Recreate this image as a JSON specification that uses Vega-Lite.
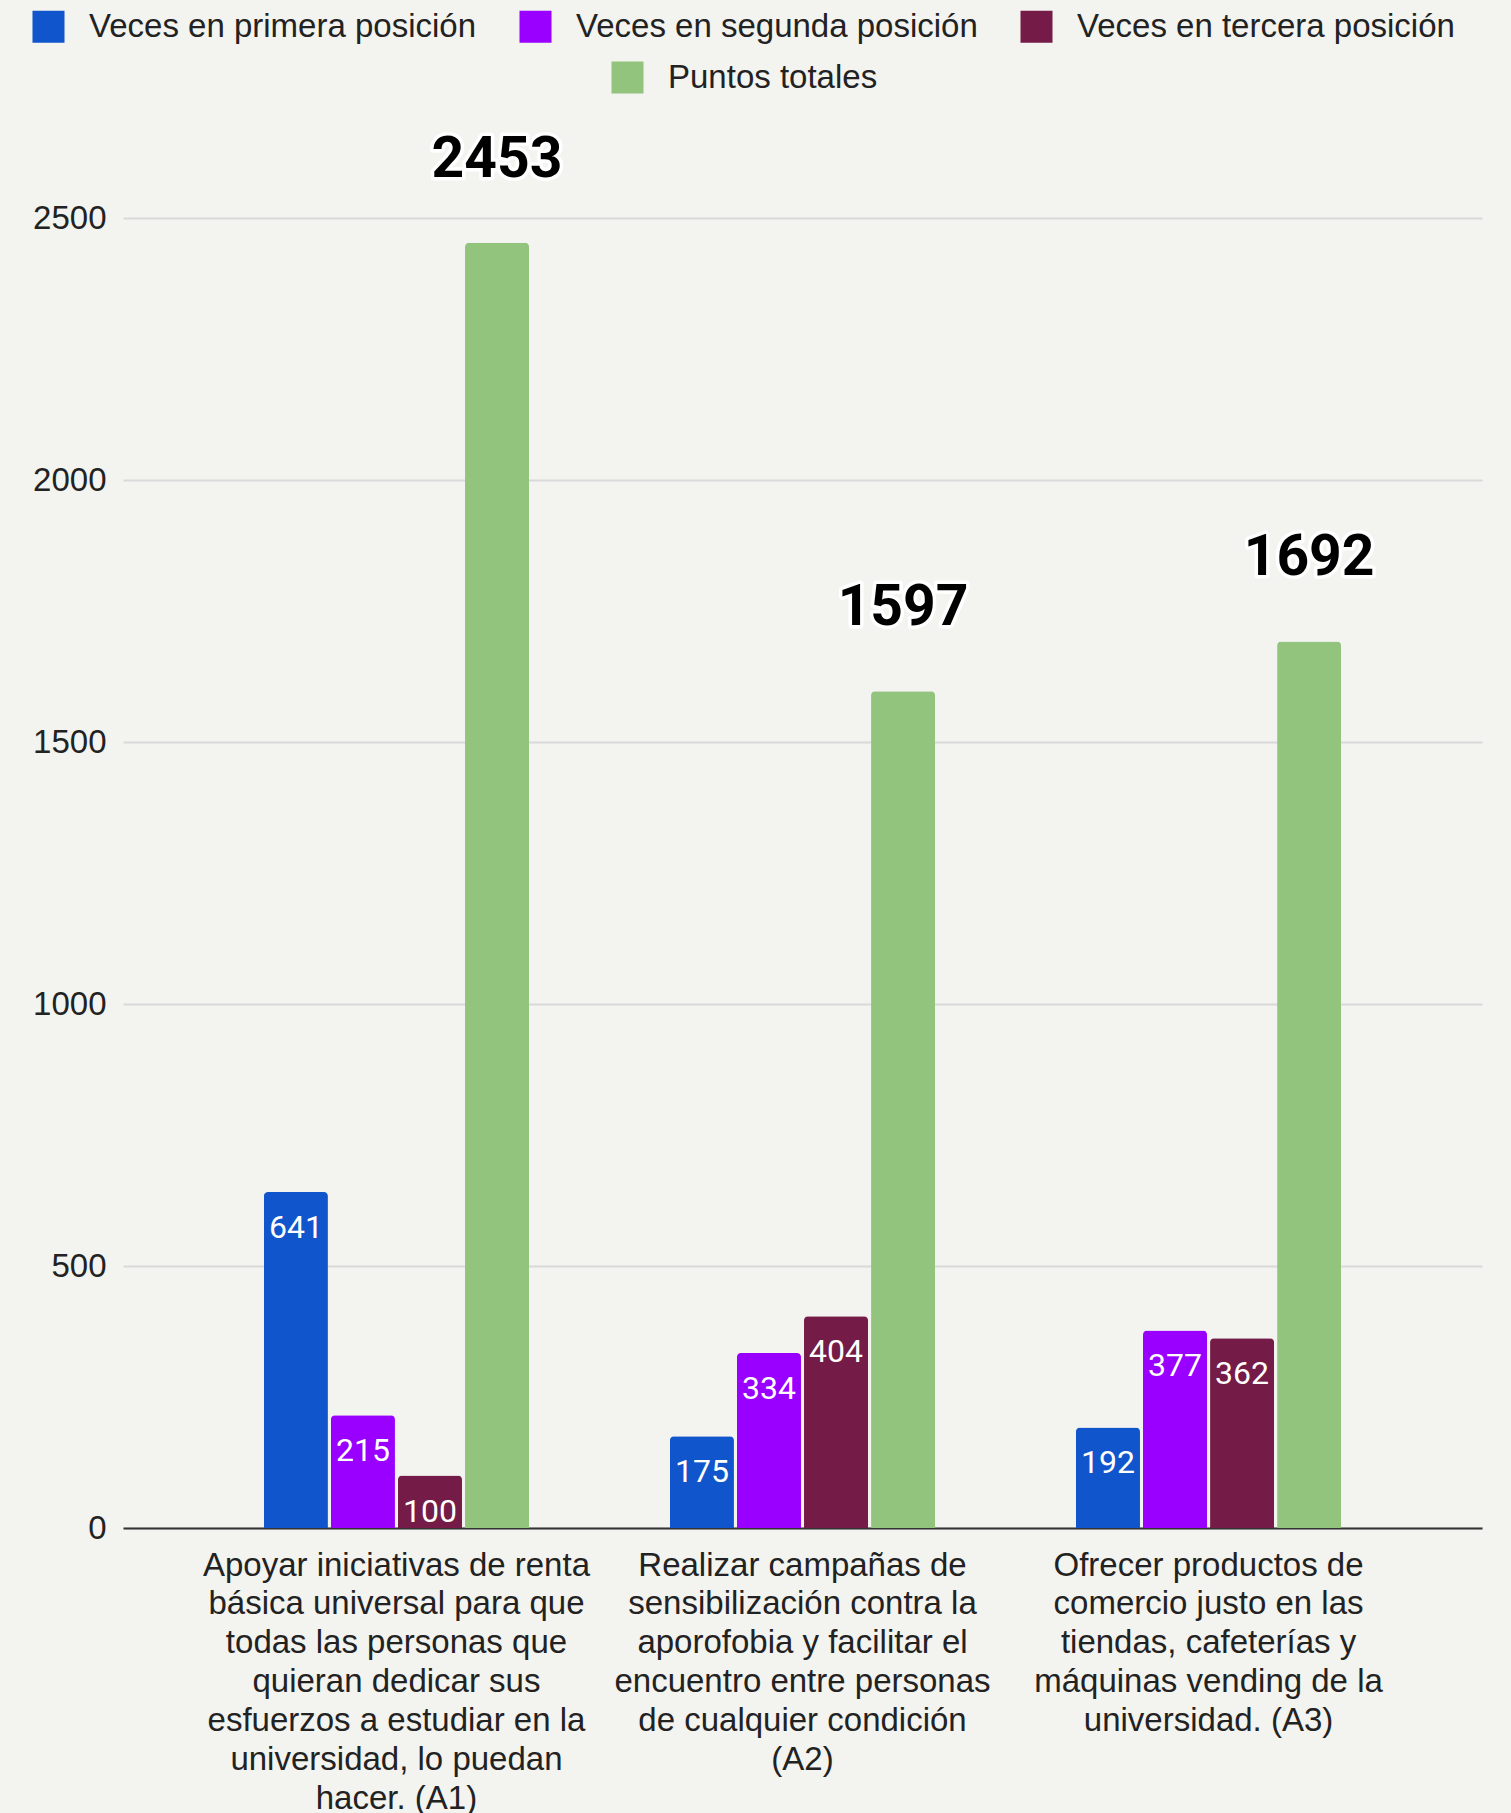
{
  "$schema": "https://vega.github.io/schema/vega-lite/v6.json",
  "width": 1359,
  "height": 1310,
  "autosize": {"type": "none"},
  "padding": {"left": 123, "top": 218, "right": 29, "bottom": 285},
  "background": "#f3f3ef",
  "config": {"view": {"stroke": null}},
  "data": {
    "values": [
      {"accion": "Apoyar iniciativas de renta\nbásica universal para que\ntodas las personas que\nquieran dedicar sus\nesfuerzos a estudiar en la\nuniversidad, lo puedan\nhacer. (A1)", "serie": "Veces en primera posición", "valor": 641},
      {"accion": "Apoyar iniciativas de renta\nbásica universal para que\ntodas las personas que\nquieran dedicar sus\nesfuerzos a estudiar en la\nuniversidad, lo puedan\nhacer. (A1)", "serie": "Veces en segunda posición", "valor": 215},
      {"accion": "Apoyar iniciativas de renta\nbásica universal para que\ntodas las personas que\nquieran dedicar sus\nesfuerzos a estudiar en la\nuniversidad, lo puedan\nhacer. (A1)", "serie": "Veces en tercera posición", "valor": 100},
      {"accion": "Apoyar iniciativas de renta\nbásica universal para que\ntodas las personas que\nquieran dedicar sus\nesfuerzos a estudiar en la\nuniversidad, lo puedan\nhacer. (A1)", "serie": "Puntos totales", "valor": 2453},
      {"accion": "Realizar campañas de\nsensibilización contra la\naporofobia y facilitar el\nencuentro entre personas\nde cualquier condición\n(A2)", "serie": "Veces en primera posición", "valor": 175},
      {"accion": "Realizar campañas de\nsensibilización contra la\naporofobia y facilitar el\nencuentro entre personas\nde cualquier condición\n(A2)", "serie": "Veces en segunda posición", "valor": 334},
      {"accion": "Realizar campañas de\nsensibilización contra la\naporofobia y facilitar el\nencuentro entre personas\nde cualquier condición\n(A2)", "serie": "Veces en tercera posición", "valor": 404},
      {"accion": "Realizar campañas de\nsensibilización contra la\naporofobia y facilitar el\nencuentro entre personas\nde cualquier condición\n(A2)", "serie": "Puntos totales", "valor": 1597},
      {"accion": "Ofrecer productos de\ncomercio justo en las\ntiendas, cafeterías y\nmáquinas vending de la\nuniversidad. (A3)", "serie": "Veces en primera posición", "valor": 192},
      {"accion": "Ofrecer productos de\ncomercio justo en las\ntiendas, cafeterías y\nmáquinas vending de la\nuniversidad. (A3)", "serie": "Veces en segunda posición", "valor": 377},
      {"accion": "Ofrecer productos de\ncomercio justo en las\ntiendas, cafeterías y\nmáquinas vending de la\nuniversidad. (A3)", "serie": "Veces en tercera posición", "valor": 362},
      {"accion": "Ofrecer productos de\ncomercio justo en las\ntiendas, cafeterías y\nmáquinas vending de la\nuniversidad. (A3)", "serie": "Puntos totales", "valor": 1692}
    ]
  },
  "encoding": {
    "x": {
      "field": "accion",
      "type": "nominal",
      "sort": null,
      "scale": {"paddingInner": 0.347, "paddingOuter": 0.347},
      "axis": {
        "title": null,
        "ticks": false,
        "domain": true,
        "domainColor": "#333333",
        "domainWidth": 2,
        "labelAngle": 0,
        "labelFont": "Liberation Sans",
        "labelFontSize": 33,
        "labelColor": "#222222",
        "labelLineHeight": 38.9,
        "labelPadding": 21,
        "labelBaseline": "top",
        "labelLimit": 2000,
        "labelExpr": "split(datum.value, '\\n')"
      }
    },
    "xOffset": {
      "field": "serie",
      "type": "nominal",
      "scale": {
        "domain": ["Veces en primera posición", "Veces en segunda posición", "Veces en tercera posición", "Puntos totales"],
        "paddingInner": 0.045,
        "paddingOuter": 0
      }
    },
    "y": {
      "field": "valor",
      "type": "quantitative",
      "scale": {"domain": [0, 2500], "nice": false},
      "axis": {
        "title": null,
        "values": [0, 500, 1000, 1500, 2000, 2500],
        "format": "d",
        "ticks": false,
        "domain": false,
        "labelFont": "Liberation Sans",
        "labelFontSize": 33,
        "labelColor": "#222222",
        "labelPadding": 17,
        "gridColor": "#d9d9d9",
        "gridWidth": 2
      }
    }
  },
  "layer": [
    {
      "transform": [{"filter": "datum.serie != 'Puntos totales'"}],
      "mark": {"type": "bar", "cornerRadiusTopLeft": 4, "cornerRadiusTopRight": 4},
      "encoding": {
        "color": {
          "field": "serie",
          "type": "nominal",
          "scale": {
            "domain": ["Veces en primera posición", "Veces en segunda posición", "Veces en tercera posición"],
            "range": ["#1155cc", "#9900ff", "#741b47"]
          },
          "legend": {
            "orient": "none",
            "legendX": -91,
            "legendY": -208,
            "direction": "horizontal",
            "title": null,
            "padding": 0,
            "symbolType": "square",
            "symbolSize": 1024,
            "symbolStrokeWidth": 0,
            "symbolOpacity": 1,
            "labelFont": "Liberation Sans",
            "labelFontSize": 33,
            "labelColor": "#222222",
            "labelOffset": 24,
            "labelLimit": 1000,
            "columnPadding": 42
          }
        }
      }
    },
    {
      "transform": [{"filter": "datum.serie == 'Puntos totales'"}],
      "mark": {"type": "bar", "cornerRadiusTopLeft": 4, "cornerRadiusTopRight": 4},
      "encoding": {
        "color": {
          "field": "serie",
          "type": "nominal",
          "scale": {"domain": ["Puntos totales"], "range": ["#93c47d"]},
          "legend": {
            "orient": "none",
            "legendX": 488,
            "legendY": -157,
            "direction": "horizontal",
            "title": null,
            "padding": 0,
            "symbolType": "square",
            "symbolSize": 1024,
            "symbolStrokeWidth": 0,
            "symbolOpacity": 1,
            "labelFont": "Liberation Sans",
            "labelFontSize": 33,
            "labelColor": "#222222",
            "labelOffset": 24,
            "labelLimit": 1000
          }
        }
      }
    },
    {
      "transform": [{"filter": "datum.serie != 'Puntos totales'"}],
      "mark": {"type": "text", "color": "#ffffff", "font": "Roboto", "fontSize": 32, "baseline": "alphabetic", "dy": 46},
      "encoding": {"text": {"field": "valor", "type": "quantitative"}}
    },
    {
      "transform": [{"filter": "datum.serie == 'Puntos totales'"}],
      "mark": {"type": "text", "fill": "#ffffff", "stroke": "#ffffff", "strokeWidth": 7, "strokeJoin": "round", "font": "Roboto", "fontWeight": "bold", "fontSize": 57, "baseline": "alphabetic", "dy": -66},
      "encoding": {"text": {"field": "valor", "type": "quantitative"}}
    },
    {
      "transform": [{"filter": "datum.serie == 'Puntos totales'"}],
      "mark": {"type": "text", "color": "#000000", "font": "Roboto", "fontWeight": "bold", "fontSize": 57, "baseline": "alphabetic", "dy": -66},
      "encoding": {"text": {"field": "valor", "type": "quantitative"}}
    }
  ],
  "resolve": {"scale": {"color": "independent"}}
}
